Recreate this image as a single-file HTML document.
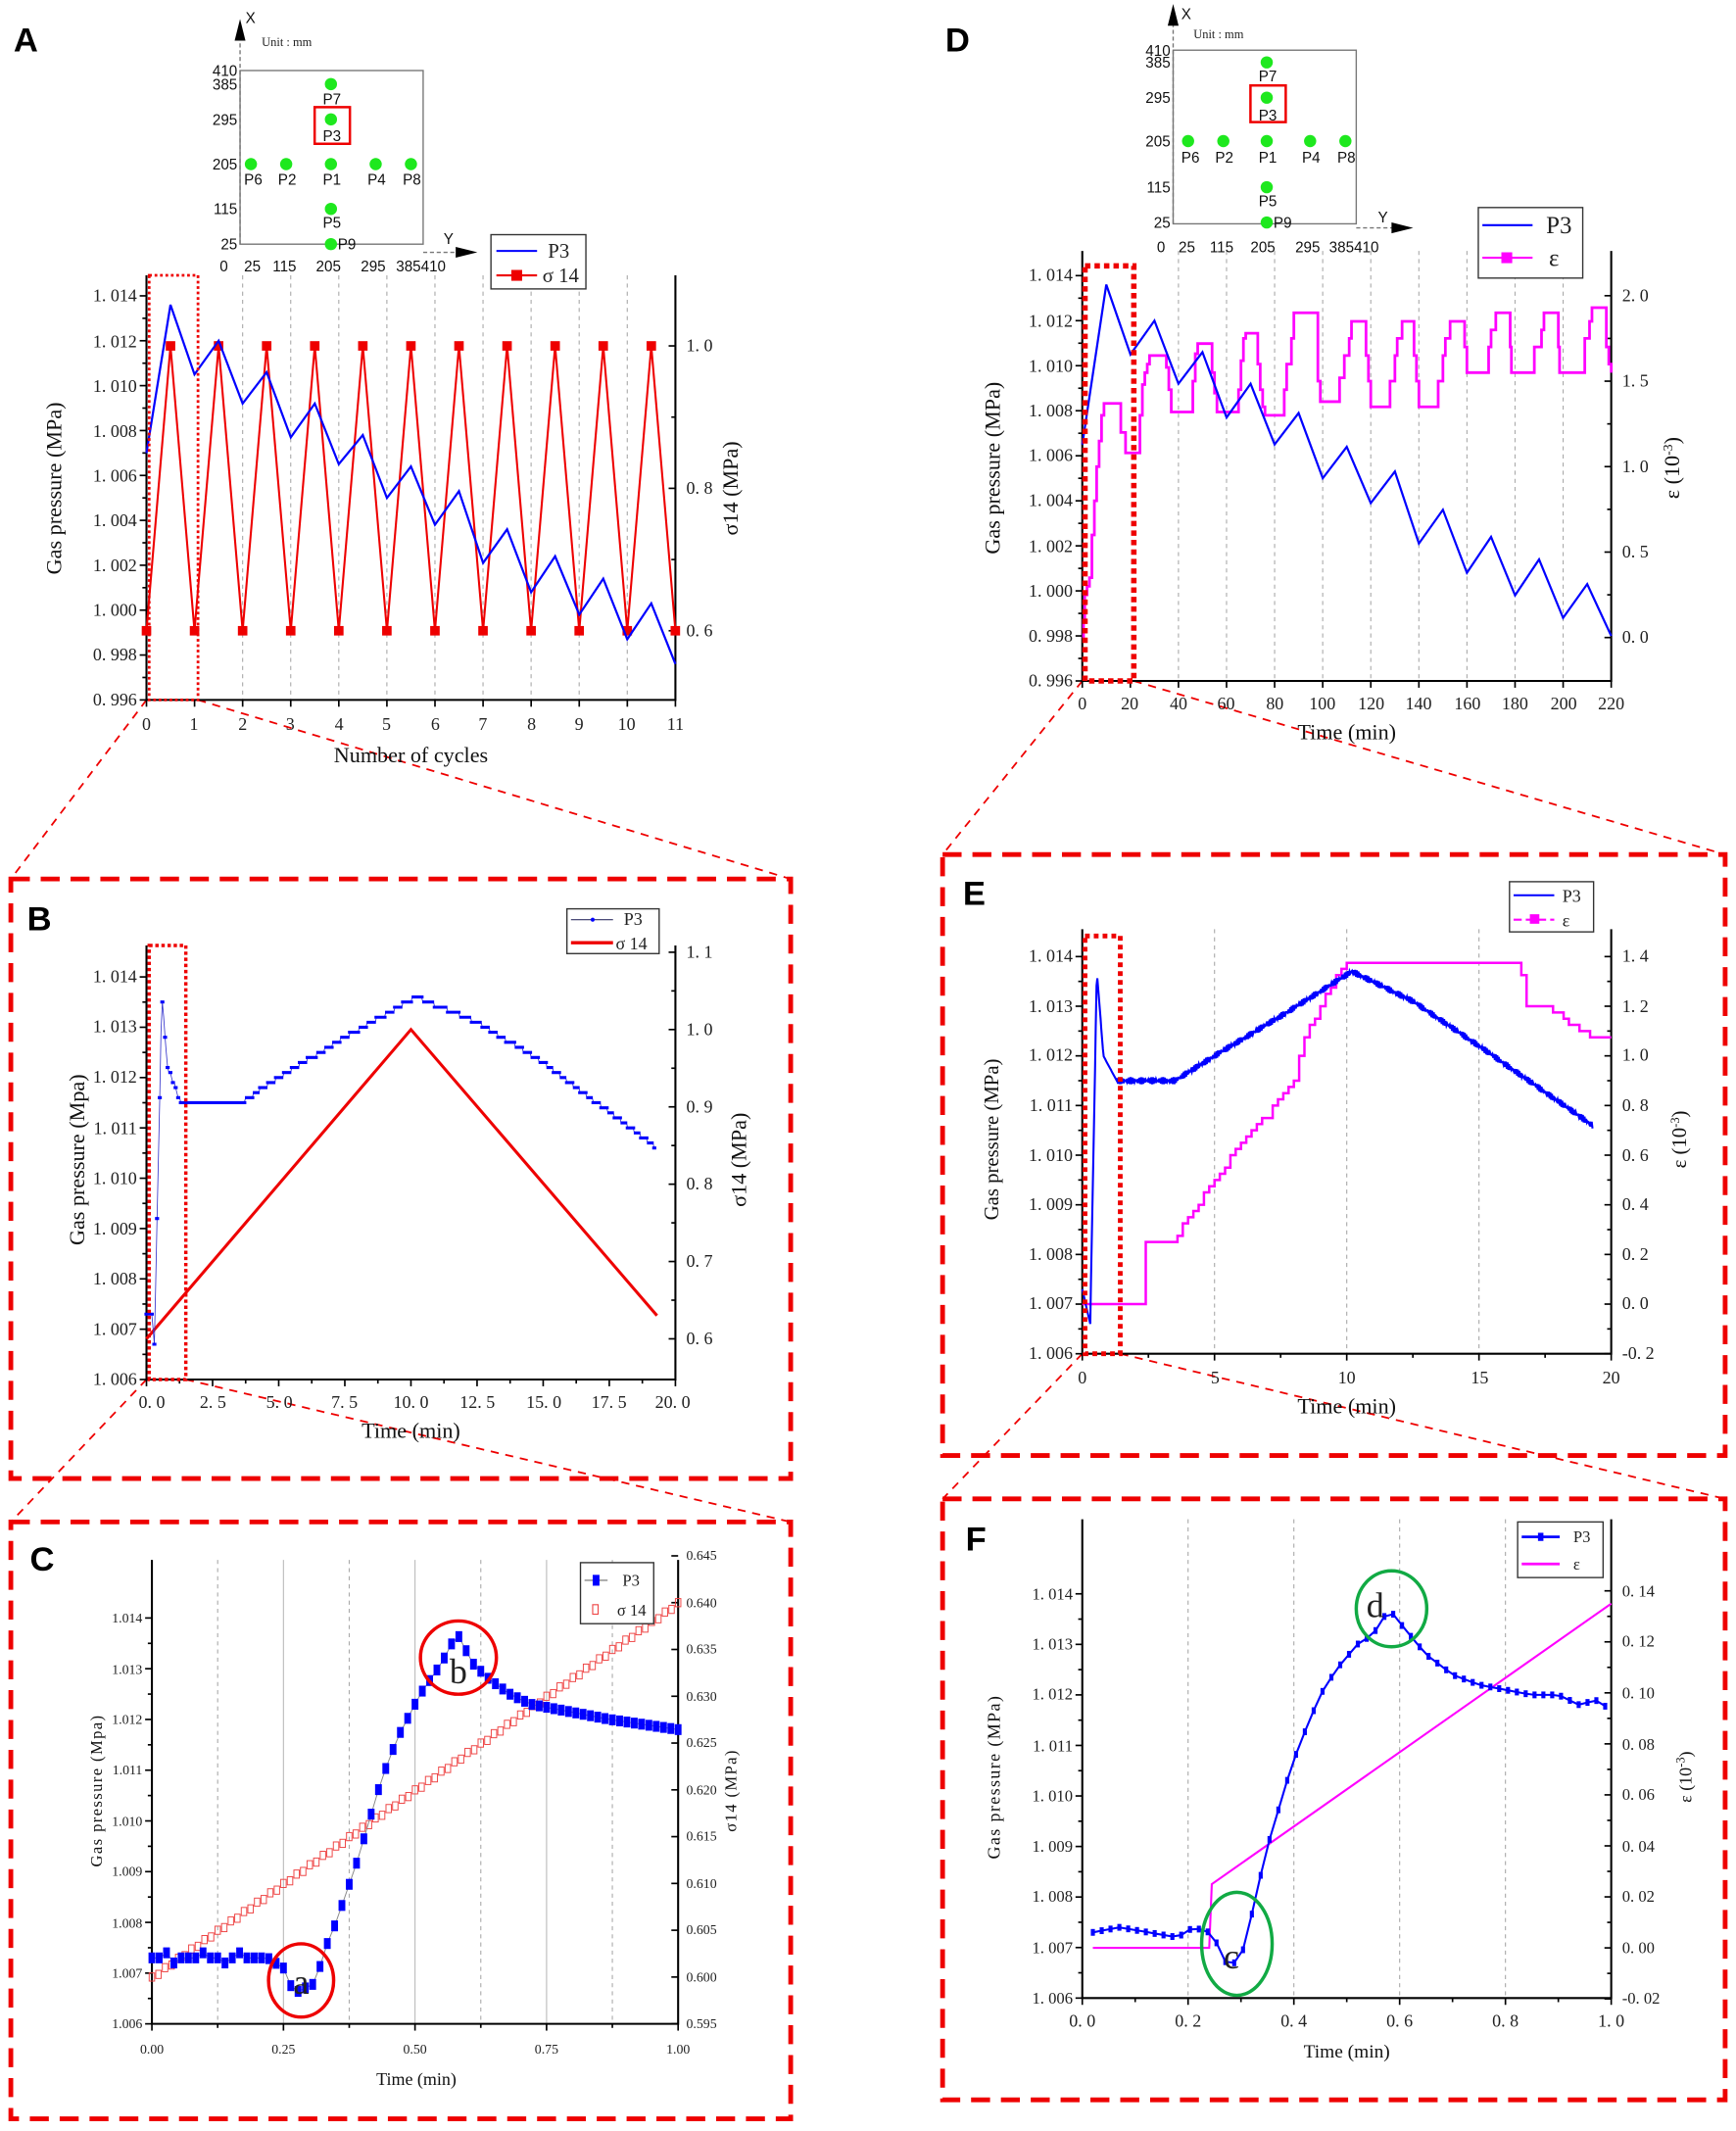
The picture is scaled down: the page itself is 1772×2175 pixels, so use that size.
<!DOCTYPE html>
<html><head><meta charset="utf-8"><style>
html,body{margin:0;padding:0;background:#fff}
svg{display:block}
.t{font-family:"Liberation Serif",serif;font-size:13px;fill:#222}
.s{font-family:"Liberation Sans",sans-serif;font-size:11px;fill:#111}
.ti{font-family:"Liberation Serif",serif;font-size:16px;fill:#111}
.L{font-family:"Liberation Sans",sans-serif;font-size:25px;font-weight:bold;fill:#000}
.ax{stroke:#000;stroke-width:1.5;fill:none}
</style></head><body>
<svg id="s" xmlns="http://www.w3.org/2000/svg" width="1772" height="2175" viewBox="0 0 1280 1571" preserveAspectRatio="none">
<rect width="1280" height="1571" fill="#fff"/>
<g id="grid"></g>
<text class="L" x="10" y="38">A</text><text class="L" x="697" y="38">D</text>
<text class="L" x="20" y="686">B</text><text class="L" x="22" y="1158">C</text>
<text class="L" x="710" y="667">E</text><text class="L" x="712" y="1143">F</text>

<g fill="none" stroke="#e00" stroke-width="3.5" stroke-dasharray="14,8">
<rect x="8" y="648" width="575" height="442"/><rect x="8" y="1122" width="575" height="440"/>
<rect x="695" y="630" width="577" height="443"/><rect x="695" y="1105" width="577" height="443"/>
</g>
<g stroke="#e00" stroke-width="1.3" stroke-dasharray="6,5">
<line x1="108" y1="516" x2="8" y2="648"/><line x1="146" y1="516" x2="583" y2="648"/>
<line x1="108" y1="1017" x2="8" y2="1122"/><line x1="137" y1="1017" x2="583" y2="1122"/>
<line x1="798" y1="502" x2="695" y2="630"/><line x1="836" y1="502" x2="1272" y2="630"/>
<line x1="798" y1="998" x2="695" y2="1105"/><line x1="826" y1="998" x2="1272" y2="1105"/>
</g>

<path class="ax" d="M108,203V516H498V203"/>
<path class="ax" d="M798,185V502H1188V185"/>
<path class="ax" d="M108,697V1017H498V697"/>
<path class="ax" d="M112,1150V1492H500V1150"/>
<path class="ax" d="M798,685V998H1188V685"/>
<path class="ax" d="M798,1120V1473H1188V1120"/>
<g id="ticks" stroke="#000" stroke-width="1.2"></g>
<g id="series"></g>

<g class="t" text-anchor="end">
<text x="101" y="520">0. 996</text><text x="101" y="487">0. 998</text><text x="101" y="454">1. 000</text><text x="101" y="421">1. 002</text><text x="101" y="388">1. 004</text><text x="101" y="355">1. 006</text><text x="101" y="322">1. 008</text><text x="101" y="289">1. 010</text><text x="101" y="256">1. 012</text><text x="101" y="222">1. 014</text>
</g>
<g class="t"><text x="506" y="469">0. 6</text><text x="506" y="364">0. 8</text><text x="506" y="259">1. 0</text></g>
<g class="t" text-anchor="middle">
<text x="108" y="538">0</text><text x="143" y="538">1</text><text x="179" y="538">2</text><text x="214" y="538">3</text><text x="250" y="538">4</text><text x="285" y="538">5</text><text x="321" y="538">6</text><text x="356" y="538">7</text><text x="392" y="538">8</text><text x="427" y="538">9</text><text x="462" y="538">10</text><text x="498" y="538">11</text>
</g>
<text class="ti" x="303" y="562" text-anchor="middle">Number of cycles</text>
<text class="ti" transform="translate(45,360) rotate(-90)" text-anchor="middle">Gas pressure (MPa)</text>
<text class="ti" transform="translate(544,360) rotate(-90)" text-anchor="middle">σ14 (MPa)</text>

<g class="t" text-anchor="end">
<text x="791" y="506">0. 996</text><text x="791" y="473">0. 998</text><text x="791" y="440">1. 000</text><text x="791" y="407">1. 002</text><text x="791" y="373">1. 004</text><text x="791" y="340">1. 006</text><text x="791" y="307">1. 008</text><text x="791" y="274">1. 010</text><text x="791" y="241">1. 012</text><text x="791" y="207">1. 014</text>
</g>
<g class="t"><text x="1196" y="474">0. 0</text><text x="1196" y="411">0. 5</text><text x="1196" y="348">1. 0</text><text x="1196" y="285">1. 5</text><text x="1196" y="222">2. 0</text></g>
<g class="t" text-anchor="middle">
<text x="798" y="523">0</text><text x="833" y="523">20</text><text x="869" y="523">40</text><text x="904" y="523">60</text><text x="940" y="523">80</text><text x="975" y="523">100</text><text x="1011" y="523">120</text><text x="1046" y="523">140</text><text x="1082" y="523">160</text><text x="1117" y="523">180</text><text x="1153" y="523">200</text><text x="1188" y="523">220</text>
</g>
<text class="ti" x="993" y="545" text-anchor="middle">Time (min)</text>
<text class="ti" transform="translate(737,345) rotate(-90)" text-anchor="middle">Gas pressure (MPa)</text>
<text class="ti" transform="translate(1238,345) rotate(-90)" text-anchor="middle">ε (10<tspan font-size="10" dy="-5">-3</tspan><tspan dy="5">)</tspan></text>

<g class="t" text-anchor="end">
<text x="101" y="1021">1. 006</text><text x="101" y="984">1. 007</text><text x="101" y="947">1. 008</text><text x="101" y="910">1. 009</text><text x="101" y="873">1. 010</text><text x="101" y="836">1. 011</text><text x="101" y="798">1. 012</text><text x="101" y="761">1. 013</text><text x="101" y="724">1. 014</text>
</g>
<g class="t"><text x="506" y="991">0. 6</text><text x="506" y="934">0. 7</text><text x="506" y="877">0. 8</text><text x="506" y="820">0. 9</text><text x="506" y="763">1. 0</text><text x="506" y="706">1. 1</text></g>
<g class="t" text-anchor="middle">
<text x="112" y="1038">0. 0</text><text x="157" y="1038">2. 5</text><text x="206" y="1038">5. 0</text><text x="254" y="1038">7. 5</text><text x="303" y="1038">10. 0</text><text x="352" y="1038">12. 5</text><text x="401" y="1038">15. 0</text><text x="449" y="1038">17. 5</text><text x="496" y="1038">20. 0</text>
</g>
<text class="ti" x="303" y="1060" text-anchor="middle">Time (min)</text>
<text class="ti" transform="translate(62,855) rotate(-90)" text-anchor="middle">Gas pressure (Mpa)</text>
<text class="ti" transform="translate(550,855) rotate(-90)" text-anchor="middle">σ14 (MPa)</text>

<g class="t" text-anchor="end" style="font-size:10px">
<text x="105" y="1495">1.006</text><text x="105" y="1458">1.007</text><text x="105" y="1421">1.008</text><text x="105" y="1383">1.009</text><text x="105" y="1346">1.010</text><text x="105" y="1308">1.011</text><text x="105" y="1271">1.012</text><text x="105" y="1234">1.013</text><text x="105" y="1196">1.014</text>
</g>
<g class="t" style="font-size:10px">
<text x="506" y="1495">0.595</text><text x="506" y="1461">0.600</text><text x="506" y="1426">0.605</text><text x="506" y="1392">0.610</text><text x="506" y="1357">0.615</text><text x="506" y="1323">0.620</text><text x="506" y="1288">0.625</text><text x="506" y="1254">0.630</text><text x="506" y="1219">0.635</text><text x="506" y="1185">0.640</text><text x="506" y="1150">0.645</text>
</g>
<g class="t" text-anchor="middle" style="font-size:10px">
<text x="112" y="1514">0.00</text><text x="209" y="1514">0.25</text><text x="306" y="1514">0.50</text><text x="403" y="1514">0.75</text><text x="500" y="1514">1.00</text>
</g>
<text class="ti" x="307" y="1537" text-anchor="middle" style="font-size:13px">Time (min)</text>
<text class="ti" transform="translate(75,1320) rotate(-90)" text-anchor="middle" style="font-size:12px;letter-spacing:1px">Gas pressure (Mpa)</text>
<text class="ti" transform="translate(543,1320) rotate(-90)" text-anchor="middle" style="font-size:12px;letter-spacing:1px">σ14 (MPa)</text>

<g class="t" text-anchor="end">
<text x="791" y="1002">1. 006</text><text x="791" y="965">1. 007</text><text x="791" y="929">1. 008</text><text x="791" y="892">1. 009</text><text x="791" y="856">1. 010</text><text x="791" y="819">1. 011</text><text x="791" y="782">1. 012</text><text x="791" y="746">1. 013</text><text x="791" y="709">1. 014</text>
</g>
<g class="t"><text x="1196" y="1002">-0. 2</text><text x="1196" y="965">0. 0</text><text x="1196" y="929">0. 2</text><text x="1196" y="892">0. 4</text><text x="1196" y="856">0. 6</text><text x="1196" y="819">0. 8</text><text x="1196" y="782">1. 0</text><text x="1196" y="746">1. 2</text><text x="1196" y="709">1. 4</text></g>
<g class="t" text-anchor="middle">
<text x="798" y="1020">0</text><text x="896" y="1020">5</text><text x="993" y="1020">10</text><text x="1091" y="1020">15</text><text x="1188" y="1020">20</text>
</g>
<text class="ti" x="993" y="1042" text-anchor="middle">Time (min)</text>
<text class="ti" transform="translate(736,840) rotate(-90)" text-anchor="middle" style="font-size:15px">Gas pressure (MPa)</text>
<text class="ti" transform="translate(1243,840) rotate(-90)" text-anchor="middle" style="font-size:15px">ε (10<tspan font-size="9" dy="-5">-3</tspan><tspan dy="5">)</tspan></text>

<g class="t" text-anchor="end" style="font-size:12px">
<text x="791" y="1477">1. 006</text><text x="791" y="1440">1. 007</text><text x="791" y="1402">1. 008</text><text x="791" y="1365">1. 009</text><text x="791" y="1328">1. 010</text><text x="791" y="1291">1. 011</text><text x="791" y="1253">1. 012</text><text x="791" y="1216">1. 013</text><text x="791" y="1179">1. 014</text>
</g>
<g class="t" style="font-size:12px"><text x="1196" y="1477">-0. 02</text><text x="1196" y="1440">0. 00</text><text x="1196" y="1402">0. 02</text><text x="1196" y="1365">0. 04</text><text x="1196" y="1327">0. 06</text><text x="1196" y="1290">0. 08</text><text x="1196" y="1252">0. 10</text><text x="1196" y="1214">0. 12</text><text x="1196" y="1177">0. 14</text></g>
<g class="t" text-anchor="middle">
<text x="798" y="1494">0. 0</text><text x="876" y="1494">0. 2</text><text x="954" y="1494">0. 4</text><text x="1032" y="1494">0. 6</text><text x="1110" y="1494">0. 8</text><text x="1188" y="1494">1. 0</text>
</g>
<text class="ti" x="993" y="1517" text-anchor="middle" style="font-size:14px">Time (min)</text>
<text class="ti" transform="translate(737,1310) rotate(-90)" text-anchor="middle" style="font-size:13px;letter-spacing:1px">Gas pressure (MPa)</text>
<text class="ti" transform="translate(1247,1310) rotate(-90)" text-anchor="middle" style="font-size:13px">ε (10<tspan font-size="9" dy="-5">-3</tspan><tspan dy="5">)</tspan></text>

<g>
<rect x="177" y="52" width="135" height="128" fill="none" stroke="#777" stroke-width="1"/>
<line x1="177" y1="180" x2="177" y2="22" stroke="#777" stroke-dasharray="3,2"/><path d="M177,14 L173,30 L181,30Z" fill="#000"/>
<line x1="312" y1="186" x2="340" y2="186" stroke="#777" stroke-dasharray="3,2"/><path d="M352,186 L336,182 L336,190Z" fill="#000"/>
<text class="s" x="181" y="17">X</text><text class="s" x="327" y="180">Y</text>
<text class="t" x="193" y="34" style="font-size:9px">Unit : mm</text>
<g class="s" text-anchor="end"><text x="175" y="56">410</text><text x="175" y="66">385</text><text x="175" y="92">295</text><text x="175" y="125">205</text><text x="175" y="158">115</text><text x="175" y="184">25</text></g>
<g class="s"><text x="162" y="200">0</text><text x="180" y="200">25</text><text x="201" y="200">115</text><text x="233" y="200">205</text><text x="266" y="200">295</text><text x="292" y="200">385410</text></g>
<g fill="#1ee81e"><circle cx="244" cy="62" r="4.5"/><circle cx="244" cy="88" r="4.5"/><circle cx="185" cy="121" r="4.5"/><circle cx="211" cy="121" r="4.5"/><circle cx="244" cy="121" r="4.5"/><circle cx="277" cy="121" r="4.5"/><circle cx="303" cy="121" r="4.5"/><circle cx="244" cy="154" r="4.5"/><circle cx="244" cy="180" r="4.5"/></g>
<rect x="232" y="79" width="26" height="27" fill="none" stroke="#e00" stroke-width="1.8"/>
<g class="s"><text x="238" y="77">P7</text><text x="238" y="104">P3</text><text x="180" y="136">P6</text><text x="205" y="136">P2</text><text x="238" y="136">P1</text><text x="271" y="136">P4</text><text x="297" y="136">P8</text><text x="238" y="168">P5</text><text x="249" y="184">P9</text></g>
</g>
<g>
<rect x="865" y="37" width="135" height="128" fill="none" stroke="#777" stroke-width="1"/>
<line x1="865" y1="165" x2="865" y2="12" stroke="#777" stroke-dasharray="3,2"/><path d="M865,3 L861,19 L869,19Z" fill="#000"/>
<line x1="1000" y1="168" x2="1028" y2="168" stroke="#777" stroke-dasharray="3,2"/><path d="M1042,168 L1026,164 L1026,172Z" fill="#000"/>
<text class="s" x="871" y="14">X</text><text class="s" x="1016" y="164">Y</text>
<text class="t" x="880" y="28" style="font-size:9px">Unit : mm</text>
<g class="s" text-anchor="end"><text x="863" y="41">410</text><text x="863" y="50">385</text><text x="863" y="76">295</text><text x="863" y="108">205</text><text x="863" y="142">115</text><text x="863" y="168">25</text></g>
<g class="s"><text x="853" y="186">0</text><text x="869" y="186">25</text><text x="892" y="186">115</text><text x="922" y="186">205</text><text x="955" y="186">295</text><text x="980" y="186">385410</text></g>
<g fill="#1ee81e"><circle cx="934" cy="46" r="4.5"/><circle cx="934" cy="72" r="4.5"/><circle cx="876" cy="104" r="4.5"/><circle cx="902" cy="104" r="4.5"/><circle cx="934" cy="104" r="4.5"/><circle cx="966" cy="104" r="4.5"/><circle cx="992" cy="104" r="4.5"/><circle cx="934" cy="138" r="4.5"/><circle cx="934" cy="164" r="4.5"/></g>
<rect x="922" y="63" width="26" height="27" fill="none" stroke="#e00" stroke-width="1.8"/>
<g class="s"><text x="928" y="60">P7</text><text x="928" y="89">P3</text><text x="871" y="120">P6</text><text x="896" y="120">P2</text><text x="928" y="120">P1</text><text x="960" y="120">P4</text><text x="986" y="120">P8</text><text x="928" y="152">P5</text><text x="939" y="168">P9</text></g>
</g>

<g>
<rect x="362" y="173" width="70" height="40" fill="#fff" stroke="#333"/>
<line x1="366" y1="185" x2="396" y2="185" stroke="#00f" stroke-width="1.5"/><text class="t" x="404" y="190" style="font-size:15px">P3</text>
<line x1="366" y1="203" x2="396" y2="203" stroke="#e00" stroke-width="1.5"/><rect x="377" y="199" width="8" height="8" fill="#e00"/><text class="t" x="400" y="208" style="font-size:15px">σ 14</text>

<rect x="1090" y="153" width="77" height="52" fill="#fff" stroke="#333"/>
<line x1="1093" y1="166" x2="1130" y2="166" stroke="#00f" stroke-width="1.5"/><text class="t" x="1140" y="172" style="font-size:18px">P3</text>
<line x1="1093" y1="190" x2="1130" y2="190" stroke="#f0f" stroke-width="1.5"/><rect x="1107" y="186" width="8" height="8" fill="#f0f"/><text class="t" x="1142" y="196" style="font-size:18px">ε</text>

<rect x="418" y="670" width="68" height="33" fill="#fff" stroke="#333"/>
<line x1="421" y1="678" x2="452" y2="678" stroke="#336" stroke-width="0.8"/><circle cx="437" cy="678" r="1.5" fill="#00f"/><text class="t" x="460" y="682">P3</text>
<line x1="421" y1="695" x2="452" y2="695" stroke="#e00" stroke-width="2.5"/><text class="t" x="454" y="700">σ 14</text>

<rect x="428" y="1152" width="54" height="45" fill="#fff" stroke="#333"/>
<line x1="431" y1="1165" x2="448" y2="1165" stroke="#888"/><rect x="437" y="1161" width="5" height="8" fill="#00f"/><text class="t" x="459" y="1169" style="font-size:12px">P3</text>
<rect x="437" y="1183" width="4" height="7" fill="none" stroke="#e44" stroke-width="0.8"/><text class="t" x="455" y="1191" style="font-size:12px">σ 14</text>

<rect x="1113" y="650" width="62" height="37" fill="#fff" stroke="#333"/>
<line x1="1116" y1="660" x2="1146" y2="660" stroke="#00f" stroke-width="1.5"/><text class="t" x="1152" y="665">P3</text>
<line x1="1116" y1="678" x2="1146" y2="678" stroke="#f0f" stroke-width="1.5" stroke-dasharray="6,3"/><rect x="1128" y="674" width="7" height="7" fill="#f0f"/><text class="t" x="1152" y="683">ε</text>

<rect x="1119" y="1122" width="63" height="41" fill="#fff" stroke="#333"/>
<line x1="1122" y1="1133" x2="1150" y2="1133" stroke="#00f" stroke-width="2"/><rect x="1134" y="1130" width="4" height="6" fill="#00f"/><text class="t" x="1160" y="1137" style="font-size:12px">P3</text>
<line x1="1122" y1="1153" x2="1150" y2="1153" stroke="#f0f" stroke-width="2"/><text class="t" x="1160" y="1157" style="font-size:12px">ε</text>
</g>

<g fill="none" stroke="#e00">
<rect x="110" y="203" width="36" height="313" stroke-width="2" stroke-dasharray="2,2"/>
<rect x="110" y="697" width="27" height="320" stroke-width="2.5" stroke-dasharray="2.5,2"/>
<rect x="800" y="196" width="36" height="306" stroke-width="4" stroke-dasharray="4,3"/>
<rect x="800" y="690" width="26" height="308" stroke-width="3.5" stroke-dasharray="3.5,3"/>
</g>

<g fill="none" stroke-width="2.5">
<ellipse cx="222" cy="1460" rx="24" ry="27" stroke="#e00"/><ellipse cx="338" cy="1222" rx="28" ry="27" stroke="#e00"/>
<ellipse cx="912" cy="1433" rx="26" ry="38" stroke="#1a4"/><ellipse cx="1026" cy="1186" rx="26" ry="28" stroke="#1a4"/>
</g>
<g class="t" style="font-size:26px" text-anchor="middle"><text x="222" y="1470">a</text><text x="338" y="1241">b</text><text x="908" y="1451">c</text><text x="1014" y="1192">d</text></g>
</svg>
<script>
(function(){
var NS="http://www.w3.org/2000/svg",S=document.getElementById('series'),G=document.getElementById('grid'),T=document.getElementById('ticks');
function el(p,tag,a){var e=document.createElementNS(NS,tag);for(var k in a)e.setAttribute(k,a[k]);p.appendChild(e);return e;}
function pl(p,pts,a){a.points=pts.map(function(q){return q[0].toFixed(1)+','+q[1].toFixed(1)}).join(' ');a.fill='none';return el(p,'polyline',a);}
function vgrid(xs,y1,y2,cls,solid){xs.forEach(function(x){el(G,'line',{x1:x,x2:x,y1:y1,y2:y2,stroke:solid?'#bbb':'#aaa','stroke-width':0.8,'stroke-dasharray':solid?'':'3,3'});});}
function tk(x,y,dx,dy){el(T,'line',{x1:x,y1:y,x2:x+dx,y2:y+dy});}
function ticksY(x,y0,y1,n,dir,minor){for(var i=0;i<=n;i++){var y=y0+(y1-y0)*i/n;tk(x,y,dir*5,0);if(minor&&i<n){tk(x,y+(y1-y0)/n/2,dir*3,0);}}}
function ticksX(y,x0,x1,n,minor){for(var i=0;i<=n;i++){var x=x0+(x1-x0)*i/n;tk(x,y,0,5);if(minor&&i<n)tk(x+(x1-x0)/n/2,y,0,3);}}
var AX=function(c){return 108+c*35.45},AY=function(v){return 516-(v-0.996)/0.002*33.1},AR=function(s){return 465-(s-0.6)/0.2*105};
var ag=[];for(var i=2;i<=10;i++)ag.push(AX(i));vgrid(ag,203,516);
ticksY(108,516,218.1,9,-1,true);ticksY(498,465,255,2,-1,true);ticksX(516,108,498,11,false);
var pA=[1.007,1.0136,1.0105,1.012,1.0092,1.0106,1.0077,1.0092,1.0065,1.0078,1.005,1.0064,1.0038,1.0053,1.0021,1.0036,1.0008,1.0024,0.9998,1.0014,0.9987,1.0003,0.9976];
var sA=[];for(i=0;i<=22;i++)sA.push([AX(i/2),AR(i%2?1.0:0.6)]);
pl(S,sA,{stroke:'#e00','stroke-width':1.5});
sA.forEach(function(q){el(S,'rect',{x:q[0]-3.5,y:q[1]-3.5,width:7,height:7,fill:'#e00'})});
pl(S,pA.map(function(v,i){return [AX(i/2),AY(v)]}),{stroke:'#00f','stroke-width':1.6});
var DX=function(t){return 798+t*1.7727},DY=function(v){return 502-(v-0.996)/0.002*33.2},DR=function(e){return 470-e/0.5*63};
var dg=[];for(i=2;i<=10;i++)dg.push(DX(i*20));vgrid(dg,185,502);
ticksY(798,502,203.2,9,-1,true);ticksY(1188,470,218,4,-1,true);ticksX(502,798,1188,11,false);
var eD=[[0,0],[0.5,0.1],[1,0.25],[2,0.3],[3,0.35],[4,0.6],[5,0.8],[6,1.0],[7,1.15],[8,1.3],[9,1.37],[15,1.37],[16,1.2],[18,1.08],[22,1.08],[24,1.3],[25,1.48],[26,1.55],[27,1.6],[28,1.65],[34,1.65],[35,1.58],[36,1.45],[37,1.32],[45,1.32],[46,1.5],[47,1.66],[48,1.72],[53,1.72],[54,1.55],[55,1.43],[56,1.32],[63,1.32],[65,1.45],[66,1.62],[67,1.75],[68,1.78],[72,1.78],[73,1.6],[74,1.45],[75,1.35],[76,1.3],[82,1.3],[84,1.45],[85,1.6],[87,1.75],[88,1.9],[97,1.9],[98,1.5],[99,1.38],[105,1.38],[107,1.52],[109,1.65],[111,1.75],[112,1.85],[117,1.85],[118,1.65],[119,1.5],[120,1.35],[126,1.35],[128,1.5],[130,1.65],[131,1.75],[133,1.85],[137,1.85],[138,1.65],[139,1.5],[140,1.35],[146,1.35],[148,1.5],[150,1.65],[151,1.75],[153,1.85],[158,1.85],[159,1.7],[160,1.55],[168,1.55],[169,1.7],[170,1.8],[172,1.9],[177,1.9],[178,1.7],[178.5,1.55],[187,1.55],[188,1.7],[191,1.8],[192,1.9],[197,1.9],[198,1.7],[198.5,1.55],[208,1.55],[209,1.75],[211,1.85],[212,1.93],[217,1.93],[218,1.7],[219,1.6],[220,1.55]];
var eds=[];eD.forEach(function(q,i){if(i>0)eds.push([DX(q[0]),DR(eD[i-1][1])]);eds.push([DX(q[0]),DR(q[1])]);});
pl(S,eds,{stroke:'#f0f','stroke-width':2});
var pD=[1.0065,1.0136,1.0105,1.012,1.0092,1.0106,1.0077,1.0092,1.0065,1.0079,1.005,1.0064,1.0039,1.0053,1.0021,1.0036,1.0008,1.0024,0.9998,1.0014,0.9988,1.0003,0.998];
pl(S,pD.map(function(v,i){return [DX(i*10),DY(v)]}),{stroke:'#00f','stroke-width':1.6});
var BX=function(t){return 108+t*19.5},BY=function(v){return 1017-(v-1.006)/0.001*37.1},BR=function(s){return 987-(s-0.6)/0.1*57};
ticksY(108,1017,720.2,8,-1,true);ticksY(498,987,702,5,-1,true);ticksX(1017,108,498,8,true);
pl(S,[[BX(0),BR(0.6)],[BX(10),BR(1.0)],[BX(19.3),BR(0.63)]],{stroke:'#e00','stroke-width':2.2});
function interp(k,t){for(var i=1;i<k.length;i++)if(t<=k[i][0]){var a=k[i-1],b=k[i];return a[1]+(b[1]-a[1])*(t-a[0])/(b[0]-a[0]);}return k[k.length-1][1];}
var kB=[[0,1.0073],[0.2,1.0073],[0.3,1.0067],[0.58,1.0136],[0.8,1.0122],[1.3,1.0115],[3.6,1.0115],[5,1.0120],[7.5,1.0128],[10.2,1.0136],[12.5,1.0131],[15,1.0123],[19.3,1.0106]];
var bp=[];for(var t=0;t<=19.3;t+=0.05){bp.push([BX(t),BY(Math.round(interp(kB,t)*10000)/10000)]);}
pl(S,bp,{stroke:'#33c','stroke-width':0.6});
var bd='';bp.forEach(function(q,i){if(i%2==0)bd+='M'+(q[0]-1.5).toFixed(1)+','+q[1].toFixed(1)+'h3';});
el(S,'path',{d:bd,stroke:'#00f','stroke-width':2.2,fill:'none'});
var CX=function(t){return 112+t*388},CY=function(v){return 1492-(v-1.006)*37400},CR=function(s){return 1492-(s-0.595)/0.005*34.5};
vgrid([CX(0.25),CX(0.5),CX(0.75)],1150,1492,'',true);vgrid([CX(0.125),CX(0.375),CX(0.625),CX(0.875)],1150,1492);
ticksY(112,1492,1192.8,8,-1,true);ticksY(500,1492,1147,10,-1,false);ticksX(1492,112,500,4,true);
for(i=0;i<=80;i++){var tt=i/80;var xx=CX(tt),yy=CR(0.6+tt*0.04)+ (i%2?1.5:0);el(S,'rect',{x:xx-2,y:yy-3,width:4,height:6,fill:'none',stroke:'#e44','stroke-width':0.7});}
var kC=[[0,1.0073],[0.22,1.0073],[0.25,1.0071],[0.27,1.0066],[0.29,1.0067],[0.31,1.0068],[0.33,1.0075],[0.35,1.0080],[0.37,1.0086],[0.39,1.0092],[0.41,1.0099],[0.43,1.0106],[0.45,1.0112],[0.47,1.0117],[0.49,1.0121],[0.51,1.0125],[0.53,1.0128],[0.55,1.0131],[0.565,1.0134],[0.58,1.0137],[0.595,1.0134],[0.61,1.0131],[0.64,1.0128],[0.68,1.0125],[0.72,1.0123],[0.77,1.0122],[0.82,1.0121],[0.87,1.0120],[1.0,1.0118]];
var cp=[];for(i=0;i<=72;i++){tt=i/72;var v=interp(kC,tt)+((i%5==2&&tt<0.25)?0.0001:0)-((i%7==3&&tt<0.25)?0.0001:0);cp.push([CX(tt),CY(v)]);}
pl(S,cp,{stroke:'#888','stroke-width':0.7});
cp.forEach(function(q){el(S,'rect',{x:q[0]-2.5,y:q[1]-4,width:5,height:8,fill:'#00f'})});
var EX=function(t){return 798+t*19.5},EY=function(v){return 998-(v-1.006)*36600},ER=function(e){return 998-(e+0.2)/0.2*36.6};
vgrid([EX(5),EX(10),EX(15)],685,998);
ticksY(798,998,705.2,8,-1,true);ticksY(1188,998,705.2,8,-1,true);ticksX(998,798,1188,4,true);
var kE=[[0,0],[2.2,0],[2.2,0.25],[3.4,0.25],[5,0.5],[6,0.65],[7,0.76],[8,0.9],[8.4,1.08],[9.5,1.3],[10,1.38],[16.3,1.38],[16.7,1.32],[16.7,1.2],[17.6,1.2],[18.6,1.12],[19.2,1.08],[20,1.08]];
var ep=[];for(t=0;t<=20;t+=0.2){var e=interp(kE,t);e=Math.round(e*40)/40;if(ep.length)ep.push([EX(t),ep[ep.length-1][1]]);ep.push([EX(t),ER(e)]);}
pl(S,ep,{stroke:'#f0f','stroke-width':1.8});
var kEp=[[0,1.0073],[0.3,1.0066],[0.55,1.0137],[0.8,1.0120],[1.3,1.0115],[3.5,1.0115],[5,1.0120],[7.5,1.0128],[10.2,1.0137],[12.5,1.0131],[15,1.0122],[19.3,1.0106]];
var epp=[];for(t=0;t<=19.3;t+=0.03){var jj=(t>1.3)?(Math.sin(t*97)*0.00007):0;epp.push([EX(t),EY(interp(kEp,t)+jj)]);}
pl(S,epp,{stroke:'#00f','stroke-width':1.5});
var FX=function(t){return 798+t*390},FY=function(v){return 1473-(v-1.006)/0.001*37.25},FR=function(e){return 1436-e/0.02*37.6};
vgrid([FX(0.2),FX(0.4),FX(0.6),FX(0.8)],1120,1473);
ticksY(798,1473,1175,8,-1,true);ticksY(1188,1473.6,1172.8,8,-1,true);ticksX(1473,798,1188,5,true);
pl(S,[[FX(0.02),FR(0)],[FX(0.24),FR(0)],[FX(0.245),FR(0.025)],[FX(1.0),FR(0.135)]],{stroke:'#f0f','stroke-width':1.5});
var kF=[[0.02,1.0073],[0.07,1.0074],[0.18,1.0072],[0.21,1.0074],[0.24,1.0073],[0.26,1.0070],[0.275,1.0066],[0.3,1.0068],[0.315,1.0074],[0.33,1.0081],[0.35,1.0090],[0.37,1.0097],[0.39,1.0104],[0.41,1.0110],[0.43,1.0115],[0.45,1.0120],[0.48,1.0125],[0.52,1.0130],[0.55,1.0132],[0.58,1.0137],[0.61,1.0133],[0.65,1.0128],[0.7,1.0124],[0.75,1.0122],[0.8,1.0121],[0.85,1.0120],[0.9,1.0120],[0.94,1.0118],[0.97,1.0119],[1.0,1.0117]];
var fp=[];for(t=0.02;t<=1.0001;t+=0.0167){fp.push([FX(t),FY(interp(kF,t))]);}
pl(S,fp,{stroke:'#00f','stroke-width':1.5});
fp.forEach(function(q){el(S,'rect',{x:q[0]-1.5,y:q[1]-2.5,width:3,height:5,fill:'#00f'})});
})();
</script>
</body></html>
